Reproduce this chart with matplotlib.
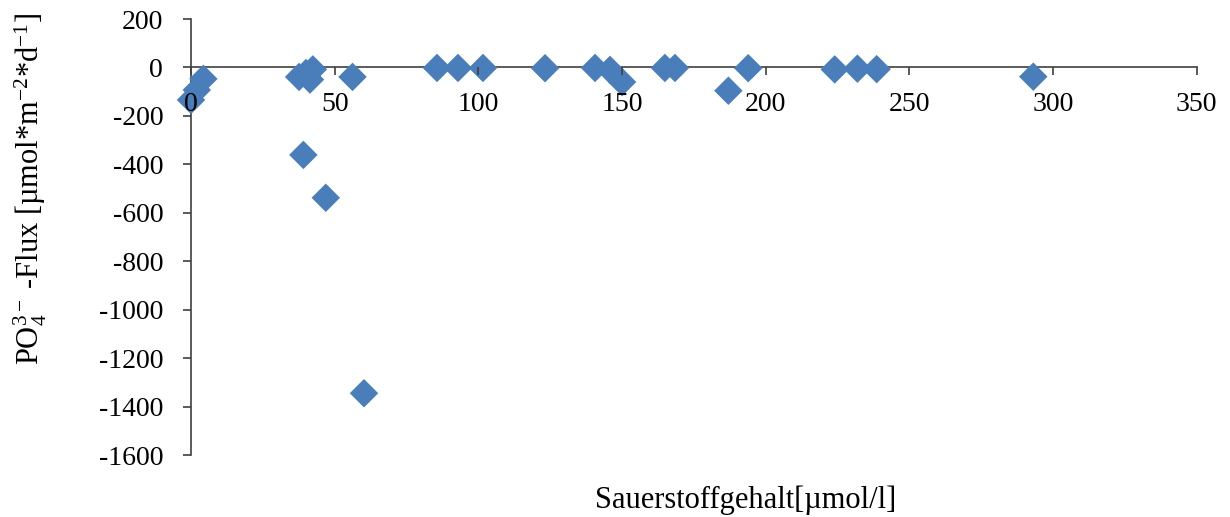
import numpy as np
import matplotlib.pyplot as plt

plt.rcParams['font.family'] = ['Liberation Serif', 'DejaVu Serif']
plt.rcParams['mathtext.fontset'] = 'custom'
plt.rcParams['mathtext.rm'] = 'Liberation Serif'
plt.rcParams['mathtext.it'] = 'Liberation Serif:italic'
plt.rcParams['axes.unicode_minus'] = False

# Sauerstoffgehalt [umol/l] und PO4-Flux [umol*m-2*d-1]
sauerstoff = [0, 2, 4.3, 37.6, 40, 41.4, 42.4, 39.1, 46.9, 56.2, 60.2,
              85.6, 92.9, 101.6, 123.2, 140.6, 145.8, 150, 164.9, 168.4,
              187, 193.9, 224, 231.9, 238.6, 293.1]
po4_flux = [-134, -93, -47, -39, -23, -50, -8, -361, -538, -39, -1345,
            -2, -2, -2, -3, -2, -10, -60, -2, -2,
            -96, -3, -8, -5, -7, -38]

x_ticks = [0, 50, 100, 150, 200, 250, 300, 350]
y_ticks = [200, 0, -200, -400, -600, -800, -1000, -1200, -1400, -1600]

fig = plt.figure(figsize=(12.3, 5.17), dpi=100)
ax = fig.add_axes([0.1553, 0.1199, 0.8177, 0.8433])

ax.scatter(sauerstoff, po4_flux, marker='D', s=14.5**2, color='#4A7EBB',
           edgecolors='none', zorder=3, clip_on=False)

ax.set_xlim(0, 350)
ax.set_ylim(-1600, 200)
ax.set_xticks(x_ticks)
ax.set_yticks(y_ticks)

# Achsen: x-Achse auf y=0, keine Box
ax.spines['top'].set_visible(False)
ax.spines['right'].set_visible(False)
ax.spines['bottom'].set_position(('data', 0))
for s in ('left', 'bottom'):
    ax.spines[s].set_color('#404040')
    ax.spines[s].set_linewidth(1.2)
# Beschriftungen der x-Achse ueber den Punkten
ax.xaxis.set_zorder(4)

ax.tick_params(axis='x', direction='out', length=6, width=1.2, color='#404040',
               labelsize=20, pad=12)
ax.tick_params(axis='y', direction='out', length=6, width=1.2, color='#404040',
               labelsize=20, pad=14)

fig.text(0.606, 0.032, 'Sauerstoffgehalt[µmol/l]', fontsize=22,
         ha='center', va='center')
fig.text(0.025, 0.635, r'PO$_4^{3-}$ -Flux [µmol*m$^{-2}$*d$^{-1}$]', fontsize=22,
         rotation=90, ha='center', va='center')

fig.savefig('out.png', dpi=100)
